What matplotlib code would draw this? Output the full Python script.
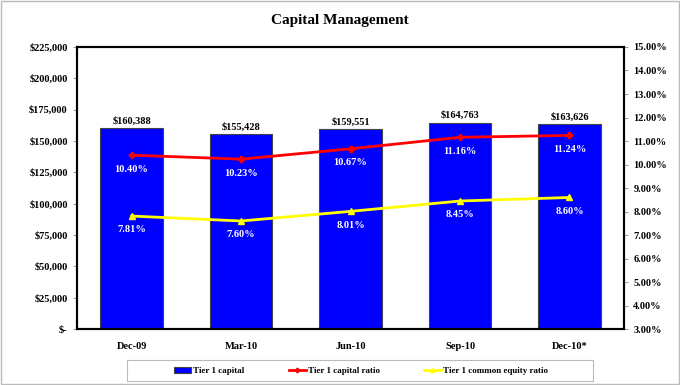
import matplotlib.pyplot as plt
import matplotlib.ticker as mticker
import numpy as np

plt.rcParams['font.family'] = ['Liberation Serif', 'DejaVu Serif']
plt.rcParams['font.weight'] = 'bold'

# Data
quarters = ['Dec-09', 'Mar-10', 'Jun-10', 'Sep-10', 'Dec-10*']
tier1_capital = [160388, 155428, 159551, 164763, 163626]
tier1_ratio = [10.40, 10.23, 10.67, 11.16, 11.24]
tier1_common_ratio = [7.81, 7.60, 8.01, 8.45, 8.60]

fig = plt.figure(figsize=(6.8, 3.85), dpi=100)
ax = fig.add_axes([0.113, 0.145, 0.805, 0.733])
ax2 = ax.twinx()

x = np.arange(len(quarters))
bars = ax.bar(x, tier1_capital, width=0.57, color='#0000FF', edgecolor='#444444',
              linewidth=0.8, label='Tier 1 capital', zorder=2)
ax.set_xlim(-0.5, len(quarters) - 0.5)
ax.set_ylim(0, 225000)
ax.yaxis.set_major_locator(mticker.MultipleLocator(25000))
ax.yaxis.set_major_formatter(mticker.FuncFormatter(
    lambda v, p: '$-' if v == 0 else '${:,.0f}'.format(v)))
ax.set_xticks(x)
ax.set_xticklabels(quarters)

for xi, v in zip(x, tier1_capital):
    ax.text(xi, v + 2000, '${:,.0f}'.format(v), ha='center', va='bottom', fontsize=7.5)

l1, = ax2.plot(x, tier1_ratio, color='#FF0000', lw=2, marker='P', ms=5,
               label='Tier 1 capital ratio', zorder=3)
l2, = ax2.plot(x, tier1_common_ratio, color='#FFFF00', lw=2, marker='^', ms=5,
               label='Tier 1 common equity ratio', zorder=3)
ax2.set_ylim(3, 15)
ax2.yaxis.set_major_locator(mticker.MultipleLocator(1))
ax2.yaxis.set_major_formatter(mticker.FuncFormatter(lambda v, p: '{:.2f}%'.format(v)))

for xi, v in zip(x, tier1_ratio):
    ax2.text(xi, v - 0.4, '{:.2f}%'.format(v), ha='center', va='top', fontsize=7.5, color='white')
for xi, v in zip(x, tier1_common_ratio):
    ax2.text(xi, v - 0.4, '{:.2f}%'.format(v), ha='center', va='top', fontsize=7.5, color='white')

for a in (ax, ax2):
    a.tick_params(labelsize=7.5, length=3, width=0.6, color='#888888')
    for s in a.spines.values():
        s.set_linewidth(1.5)
ax.tick_params(axis='x', length=0, pad=9)

fig.text(0.5, 0.948, 'Capital Management', ha='center', va='center', fontsize=11)

# legend frame drawn separately, it is wider than its entries
fig.patches.append(plt.Rectangle((127 / 680, 1 - 381 / 385), 466 / 680, 21 / 385,
                                 transform=fig.transFigure, fill=False,
                                 edgecolor='#bbbbbb', lw=0.8))
fig.legend([bars, l1, l2],
           ['Tier 1 capital', 'Tier 1 capital ratio', 'Tier 1 common equity ratio'],
           loc='center', bbox_to_anchor=(361 / 680, 1 - 371 / 385), ncol=3, fontsize=6.5,
           frameon=False, handlelength=1.9, handletextpad=0.2, columnspacing=4.9,
           markerscale=0.6)

fig.patches.append(plt.Rectangle((0.002, 0.003), 0.996, 0.994, transform=fig.transFigure,
                                 fill=False, edgecolor='#bbbbbb', lw=1))

fig.savefig('out.png', dpi=100)
